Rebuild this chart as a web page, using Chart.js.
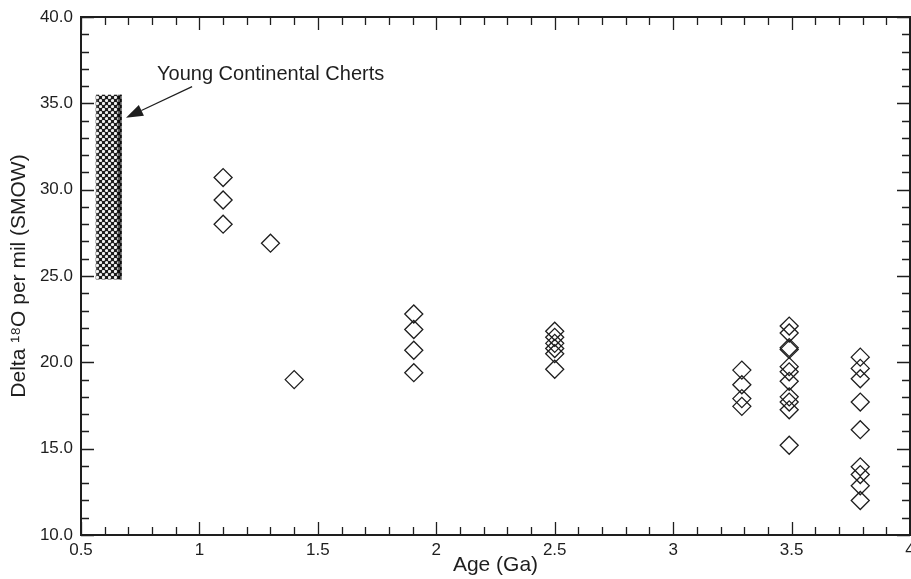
<!DOCTYPE html>
<html>
<head>
<meta charset="utf-8">
<script src="https://cdn.jsdelivr.net/npm/chart.js@4.4.1/dist/chart.umd.min.js"></script>
<style>
  html, body { margin: 0; padding: 0; background: #ffffff; }
  #wrap { width: 911px; height: 579px; position: relative; }
</style>
</head>
<body>
<div id="wrap"><canvas id="c" width="911" height="579"></canvas></div>
<script>
// ---- Data ----
const groupAges = [1.1, 1.3, 1.4, 1.905, 2.5, 3.29, 3.49, 3.79];
const groupValues = [
  [30.7, 29.4, 28.0],
  [26.9],
  [19.0],
  [22.8, 21.9, 20.7, 19.4],
  [21.8, 21.45, 21.1, 20.8, 20.5, 19.6],
  [19.55, 18.7, 17.9, 17.45],
  [22.1, 21.7, 20.85, 20.75, 19.75, 19.45, 18.9, 18.0, 17.7, 17.25, 15.2],
  [20.3, 19.65, 19.05, 17.7, 16.1, 13.95, 13.5, 12.85, 12.0]
];
const xTickValues = [0.5, 1, 1.5, 2, 2.5, 3, 3.5, 4];
const yTickValues = [10, 15, 20, 25, 30, 35, 40];
// Young continental cherts range (age span, delta span)
const chertAge = [0.562, 0.672];
const chertDelta = [24.8, 35.5];
// annotation: label anchor, arrow tail, arrow tip (data coords)
const noteText = 'Young Continental Cherts';
const noteAnchor = [0.821, 36.38];
const arrowTail = [0.969, 35.97];
const arrowTip = [0.69, 34.17];

const points = [];
groupAges.forEach((a, i) => groupValues[i].forEach(v => points.push({x: a, y: v})));

const FONT = '"Liberation Sans", Arial, Helvetica, sans-serif';
const INK = '#1e1e1e';

function makePattern(ctx) {
  const c = document.createElement('canvas');
  c.width = 6; c.height = 6;
  const g = c.getContext('2d');
  g.fillStyle = '#1c1c1c';
  g.fillRect(0, 0, 6, 6);
  g.fillStyle = '#f0f0f0';
  [[1.5, 1.5], [4.5, 4.5]].forEach(([px, py]) => {
    g.beginPath(); g.arc(px, py, 1.6, 0, Math.PI * 2); g.fill();
  });
  return ctx.createPattern(c, 'repeat');
}

const framePlugin = {
  id: 'frame',
  beforeDatasetsDraw(chart) {
    const {ctx, scales: {x, y}} = chart;
    // chert band
    const x0 = x.getPixelForValue(chertAge[0]), x1 = x.getPixelForValue(chertAge[1]);
    const y0 = y.getPixelForValue(chertDelta[1]), y1 = y.getPixelForValue(chertDelta[0]);
    ctx.save();
    ctx.fillStyle = makePattern(ctx);
    ctx.fillRect(x0, y0, x1 - x0, y1 - y0);
    ctx.fillStyle = 'rgba(0,0,0,0.6)';
    ctx.fillRect(x1 - 4, y0, 4, y1 - y0);
    ctx.fillStyle = 'rgba(255,255,255,0.25)';
    ctx.fillRect(x0, y0, 2, y1 - y0);
    ctx.restore();
  },
  afterDraw(chart) {
    const {ctx, chartArea: ca, scales: {x, y}} = chart;
    ctx.save();
    ctx.strokeStyle = INK;
    // ticks
    ctx.lineWidth = 1.3;
    ctx.beginPath();
    for (let i = 0; i <= 35; i++) {
      const v = 0.5 + i * 0.1;
      const px = Math.round(x.getPixelForValue(v)) + 0.5;
      const len = (i % 5 === 0) ? 13 : 8;
      ctx.moveTo(px, ca.bottom); ctx.lineTo(px, ca.bottom - len);
      ctx.moveTo(px, ca.top); ctx.lineTo(px, ca.top + len);
    }
    for (let v = 10; v <= 40; v++) {
      const py = Math.round(y.getPixelForValue(v)) + 0.5;
      const len = (v % 5 === 0) ? 13 : 8;
      ctx.moveTo(ca.left, py); ctx.lineTo(ca.left + len, py);
      ctx.moveTo(ca.right, py); ctx.lineTo(ca.right - len, py);
    }
    ctx.stroke();
    // frame
    ctx.lineWidth = 2;
    ctx.strokeRect(ca.left, ca.top, ca.right - ca.left, ca.bottom - ca.top);

    // annotation arrow
    const tx = x.getPixelForValue(arrowTail[0]), ty = y.getPixelForValue(arrowTail[1]);
    const hx = x.getPixelForValue(arrowTip[0]), hy = y.getPixelForValue(arrowTip[1]);
    const ang = Math.atan2(hy - ty, hx - tx);
    const hl = 17, hw = 6;
    const bx = hx - hl * Math.cos(ang), by = hy - hl * Math.sin(ang);
    ctx.lineWidth = 1.2;
    ctx.beginPath(); ctx.moveTo(tx, ty); ctx.lineTo(bx, by); ctx.stroke();
    ctx.fillStyle = INK;
    ctx.beginPath();
    ctx.moveTo(hx, hy);
    ctx.lineTo(bx + hw * Math.sin(ang), by - hw * Math.cos(ang));
    ctx.lineTo(bx - hw * Math.sin(ang), by + hw * Math.cos(ang));
    ctx.closePath(); ctx.fill();
    // annotation text
    ctx.font = '20px ' + FONT;
    ctx.textAlign = 'left';
    ctx.textBaseline = 'alphabetic';
    ctx.fillText(noteText, x.getPixelForValue(noteAnchor[0]), y.getPixelForValue(noteAnchor[1]));
    ctx.restore();
  }
};

new Chart(document.getElementById('c'), {
  type: 'scatter',
  data: {
    datasets: [{
      data: points,
      pointStyle: 'rectRot',
      radius: 9,
      hoverRadius: 9,
      borderWidth: 1.3,
      borderColor: INK,
      backgroundColor: 'rgba(0,0,0,0)'
    }]
  },
  options: {
    responsive: false,
    animation: false,
    events: [],
    layout: { autoPadding: false, padding: { top: 17, right: 1, left: 0, bottom: 0 } },
    plugins: { legend: { display: false }, tooltip: { enabled: false } },
    scales: {
      x: {
        type: 'linear', min: 0.5, max: 4,
        afterBuildTicks: s => { s.ticks = xTickValues.map(v => ({value: v})); },
        ticks: {
          callback: v => String(v),
          color: INK, padding: 5, maxRotation: 0, autoSkip: false,
          font: { family: FONT, size: 17 }
        },
        grid: { display: false, drawTicks: false },
        border: { display: false },
        title: { display: true, text: 'Age (Ga)', color: INK, font: { family: FONT, size: 21 }, padding: { top: 0, bottom: 1 } },
        afterFit: s => { s.paddingLeft = 0; s.paddingRight = 0; s.height = 44; }
      },
      y: {
        type: 'linear', min: 10, max: 40,
        afterBuildTicks: s => { s.ticks = yTickValues.map(v => ({value: v})); },
        ticks: {
          callback: v => Number(v).toFixed(1),
          color: INK, padding: 8,
          font: { family: FONT, size: 17 }
        },
        grid: { display: false, drawTicks: false },
        border: { display: false },
        title: { display: true, text: 'Delta \u00B9\u2078O per mil (SMOW)', color: INK, font: { family: FONT, size: 21 }, padding: { top: 7, bottom: 0 } },
        afterFit: s => { s.paddingTop = 0; s.paddingBottom = 0; s.width = 81; }
      }
    }
  },
  plugins: [framePlugin]
});
</script>
</body>
</html>
